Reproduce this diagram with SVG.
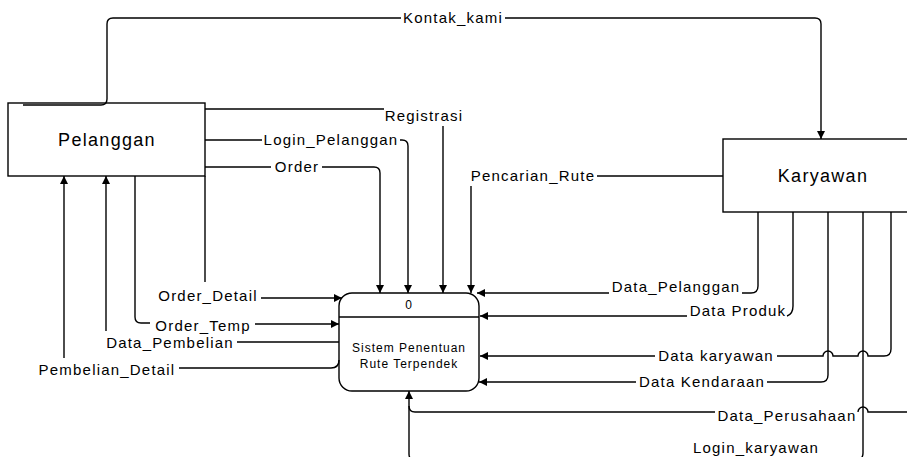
<svg xmlns="http://www.w3.org/2000/svg" width="907" height="457" viewBox="0 0 907 457">
<style>
.box{fill:#fff;stroke:#000;stroke-width:1.4}
.ln{fill:none;stroke:#000;stroke-width:1.4}
.lbl{font-family:"Liberation Sans",Arial,sans-serif;font-size:15px;letter-spacing:1.2px;fill:#000;text-anchor:middle}
.big{font-family:"Liberation Sans",Arial,sans-serif;font-size:18px;letter-spacing:1.3px;fill:#000;text-anchor:middle}
.sm{font-family:"Liberation Sans",Arial,sans-serif;font-size:12px;letter-spacing:1px;fill:#000;text-anchor:middle}
</style>
<defs>
<marker id="arr" viewBox="0 0 10 10" refX="10" refY="5" markerWidth="8" markerHeight="8" markerUnits="userSpaceOnUse" orient="auto">
<path d="M0,0 L10,5 L0,10 z" fill="#000"/>
</marker>
</defs>
<rect x="0" y="0" width="907" height="457" fill="#fff"/>
<g id="pelanggan">
<rect class="box" x="8" y="103" width="197" height="73"/>
<text class="big" x="107" y="146">Pelanggan</text>
</g>
<g id="karyawan">
<rect class="box" x="723" y="139" width="200" height="73"/>
<text class="big" x="823" y="182">Karyawan</text>
</g>
<g id="proses">
<rect class="box" x="339" y="293" width="140" height="98" rx="13" ry="13"/>
<line class="ln" x1="339" y1="317" x2="479" y2="317"/>
<text class="sm" x="409" y="309">0</text>
<text class="sm" x="409" y="352">Sistem Penentuan</text>
<text class="sm" x="409" y="368">Rute Terpendek</text>
</g>
<g id="connectors">
<path class="ln" d="M23,105 H101 Q107,105 107,99 V24 Q107,18 113,18 H401"/>
<path class="ln" marker-end="url(#arr)" d="M505,18 H815 Q821,18 821,24 V139"/>
<path class="ln" d="M205,109 H384"/>
<path class="ln" marker-end="url(#arr)" d="M443,126 V293"/>
<path class="ln" d="M205,140 H262"/>
<path class="ln" marker-end="url(#arr)" d="M400,140 H402 Q408,140 408,146 V293"/>
<path class="ln" d="M205,167 H271"/>
<path class="ln" marker-end="url(#arr)" d="M322,167 H374 Q380,167 380,173 V293"/>
<path class="ln" d="M723,176 H597"/>
<path class="ln" marker-end="url(#arr)" d="M471,186 V293"/>
<path class="ln" d="M205,176 V282"/>
<path class="ln" marker-end="url(#arr)" d="M261,298 H342"/>
<path class="ln" d="M135,176 V317 Q135,323 141,323 H150"/>
<path class="ln" marker-end="url(#arr)" d="M255,324 H339"/>
<path class="ln" d="M339,342 H237"/>
<path class="ln" marker-end="url(#arr)" d="M106,331 V176"/>
<path class="ln" d="M339,360 Q339,368 331,368 H179"/>
<path class="ln" marker-end="url(#arr)" d="M64,358 V176"/>
<path class="ln" d="M758,212 V286 Q758,293 751,293 H742"/>
<path class="ln" marker-end="url(#arr)" d="M609,293 H477"/>
<path class="ln" d="M793,212 V306 Q793,314 787,316"/>
<path class="ln" marker-end="url(#arr)" d="M687,316 H480"/>
<path class="ln" d="M891,212 V349 Q891,356 884,356 H868 A5,5 0 0 0 858,356 H833 A5,5 0 0 0 823,356 H777"/>
<path class="ln" marker-end="url(#arr)" d="M655,356 H480"/>
<path class="ln" d="M828,212 V375 Q828,382 821,382 H767"/>
<path class="ln" marker-end="url(#arr)" d="M636,382 H479"/>
<path class="ln" d="M907,412 H868 A5,5 0 0 0 858,412"/>
<path class="ln" d="M715,412 H415 Q409,412 409,406"/>
<path class="ln" d="M863,212 V453 Q863,460 856,460 H821"/>
<path class="ln" marker-end="url(#arr)" d="M690,460 H415 Q409,460 409,454 V391"/>
</g>
<g id="labels">
<text class="lbl" x="453" y="23">Kontak_kami</text>
<text class="lbl" x="424" y="121">Registrasi</text>
<text class="lbl" x="331" y="145">Login_Pelanggan</text>
<text class="lbl" x="297" y="172">Order</text>
<text class="lbl" x="533" y="181">Pencarian_Rute</text>
<text class="lbl" x="208" y="301">Order_Detail</text>
<text class="lbl" x="203" y="331">Order_Temp</text>
<text class="lbl" x="170" y="348">Data_Pembelian</text>
<text class="lbl" x="107" y="375">Pembelian_Detail</text>
<text class="lbl" x="676" y="292">Data_Pelanggan</text>
<text class="lbl" x="738" y="316">Data Produk</text>
<text class="lbl" x="716" y="361">Data karyawan</text>
<text class="lbl" x="702" y="387">Data Kendaraan</text>
<text class="lbl" x="787" y="421">Data_Perusahaan</text>
<text class="lbl" x="756" y="453">Login_karyawan</text>
</g>
</svg>
